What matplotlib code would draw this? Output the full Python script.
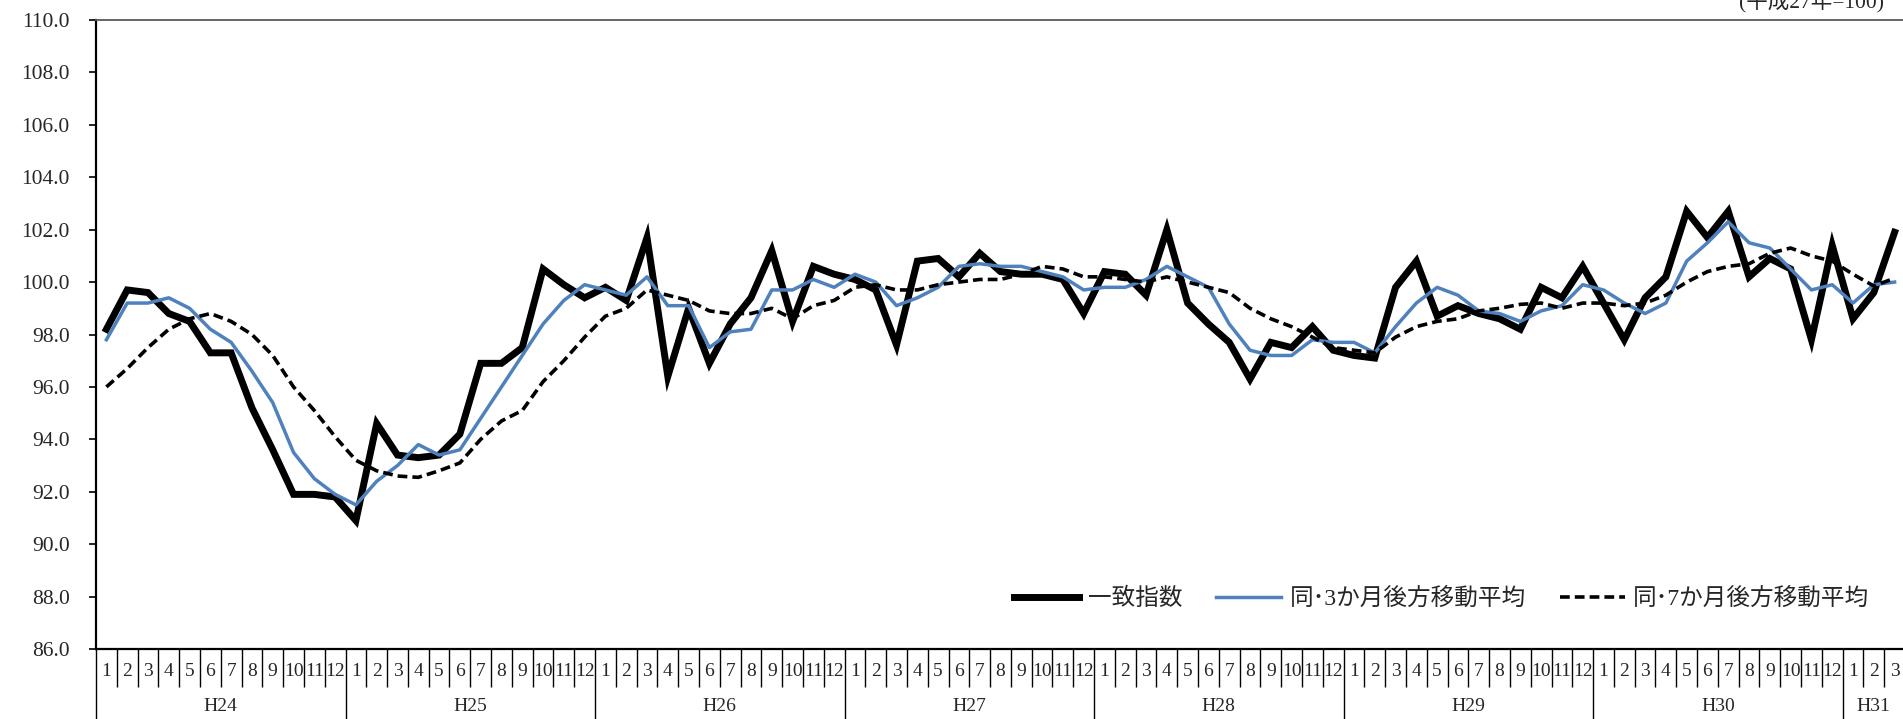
import matplotlib
matplotlib.use("Agg")
import matplotlib.pyplot as plt
import numpy as np

# ---- data ----
years = ["H24", "H25", "H26", "H27", "H28", "H29", "H30", "H31"]
months_per_year = [12, 12, 12, 12, 12, 12, 12, 3]

coincident = [
    98.2, 99.7, 99.6, 98.8, 98.5, 97.3, 97.3, 95.2, 93.6, 91.9, 91.9, 91.8,
    90.9, 94.6, 93.4, 93.3, 93.4, 94.2, 96.9, 96.9, 97.5, 100.5, 99.9, 99.4,
    99.8, 99.3, 101.7, 96.4, 99.0, 96.9, 98.4, 99.4, 101.2, 98.5, 100.6, 100.3,
    100.1, 99.7, 97.6, 100.8, 100.9, 100.2, 101.1, 100.4, 100.3, 100.3, 100.1, 98.8,
    100.4, 100.3, 99.5, 102.0, 99.2, 98.4, 97.7, 96.3, 97.7, 97.5, 98.3, 97.4,
    97.2, 97.1, 99.8, 100.8, 98.7, 99.1, 98.8, 98.6, 98.2, 99.8, 99.4, 100.6,
    99.2, 97.8, 99.4, 100.2, 102.7, 101.7, 102.7, 100.2, 100.9, 100.5, 97.8, 101.4,
    98.6, 99.6, 101.9,
]
ma3 = [
    97.8, 99.2, 99.2, 99.4, 99.0, 98.2, 97.7, 96.6, 95.4, 93.5, 92.5, 91.9,
    91.5, 92.4, 93.0, 93.8, 93.4, 93.6, 94.8, 96.0, 97.2, 98.4, 99.3, 99.9,
    99.7, 99.5, 100.2, 99.1, 99.1, 97.5, 98.1, 98.2, 99.7, 99.7, 100.1, 99.8,
    100.3, 100.0, 99.1, 99.4, 99.8, 100.6, 100.7, 100.6, 100.6, 100.4, 100.2, 99.7,
    99.8, 99.8, 100.1, 100.6, 100.2, 99.8, 98.4, 97.4, 97.2, 97.2, 97.8, 97.7,
    97.7, 97.3, 98.3, 99.2, 99.8, 99.5, 98.9, 98.8, 98.5, 98.9, 99.1, 99.9,
    99.7, 99.2, 98.8, 99.2, 100.8, 101.5, 102.3, 101.5, 101.3, 100.5, 99.7, 99.9,
    99.2, 99.9, 100.0,
]
ma7 = [
    96.0, 96.7, 97.5, 98.2, 98.6, 98.8, 98.5, 98.0, 97.2, 96.0, 95.1, 94.1,
    93.2, 92.8, 92.6, 92.55, 92.8, 93.1, 94.0, 94.7, 95.1, 96.2, 97.0, 97.9,
    98.7, 99.0, 99.7, 99.5, 99.3, 98.9, 98.8, 98.8, 99.0, 98.6, 99.1, 99.3,
    99.8, 99.9, 99.7, 99.7, 99.9, 100.0, 100.1, 100.1, 100.3, 100.6, 100.5, 100.2,
    100.2, 100.1, 100.0, 100.2, 100.0, 99.8, 99.6, 99.0, 98.6, 98.3, 97.9, 97.5,
    97.4, 97.3, 97.9, 98.3, 98.5, 98.6, 98.9, 99.0, 99.15, 99.2, 99.0, 99.2,
    99.2, 99.1, 99.2, 99.5, 100.0, 100.4, 100.6, 100.7, 101.1, 101.3, 101.0, 100.8,
    100.3, 99.85, 100.15,
]
series_labels = ["一致指数", "同･3か月後方移動平均", "同･7か月後方移動平均"]
unit_label = "(平成27年=100)"
y_ticks = [86, 88, 90, 92, 94, 96, 98, 100, 102, 104, 106, 108, 110]

# ---- fonts ----
plt.rcParams["font.family"] = ["Liberation Serif", "Noto Sans CJK JP", "DejaVu Sans"]
TXT = "#262626"

fig = plt.figure(figsize=(19.03, 7.19), dpi=100)
ax = fig.add_axes([96 / 1903, 70 / 719, 1809 / 1903, 629 / 719])

n = len(coincident)
x = np.arange(n)

ax.plot(x, coincident, color="black", lw=5.0, solid_joinstyle="miter",
        label=series_labels[0], zorder=3)
ax.plot(x, ma3, color="#4F81BD", lw=2.5, label=series_labels[1], zorder=4)
ax.plot(x, ma7, color="black", lw=2.6, linestyle=(0, (2.7, 1.4)),
        label=series_labels[2], zorder=5)

ax.set_xlim(-0.5, n - 0.5)
ax.set_ylim(86, 110)
ax.set_yticks(y_ticks)
ax.set_yticklabels([f"{v:.1f}" for v in y_ticks])
ax.tick_params(axis="y", direction="out", length=5, width=1.2, pad=14,
               labelsize=15.5, labelcolor=TXT)

# spines
ax.spines["left"].set_linewidth(1.6)
ax.spines["bottom"].set_linewidth(1.6)
ax.spines["top"].set_color("#595959")
ax.spines["top"].set_linewidth(1.3)
ax.spines["right"].set_visible(False)

# x axis: month separators (minor), year separators (major)
month_bounds = np.arange(n + 1) - 0.5
year_starts = np.concatenate([[0], np.cumsum(months_per_year)])
year_bounds = year_starts - 0.5
ax.set_xticks(year_bounds)
ax.set_xticks(month_bounds, minor=True)
ax.set_xticklabels([])
ax.tick_params(axis="x", which="major", direction="out", length=52, width=1.0, color="black")
ax.tick_params(axis="x", which="minor", direction="out", length=27, width=1.0, color="black")

trans = ax.get_xaxis_transform()
for yi, (yname, cnt) in enumerate(zip(years, months_per_year)):
    start = year_starts[yi]
    for m in range(cnt):
        ax.text(start + m, -0.036, str(m + 1), transform=trans, ha="center", va="center",
                fontsize=14, color=TXT)
    ax.text(start + (cnt - 1) / 2, -0.092, yname, transform=trans, ha="center", va="center",
            fontsize=14, color=TXT)

leg = ax.legend(loc="center right", bbox_to_anchor=(0.992, 0.08), ncol=3, frameon=False,
                fontsize=17, handlelength=2.75, handletextpad=0.35, columnspacing=1.45,
                labelcolor=TXT)
for t in leg.get_texts():
    t.set_fontfamily(["Liberation Serif", "Noto Sans CJK JP"])

fig.text(1884 / 1903, 1 - 12 / 719, unit_label, ha="right", va="bottom",
         fontsize=15.5, color=TXT)

fig.savefig("out.png", dpi=100)
